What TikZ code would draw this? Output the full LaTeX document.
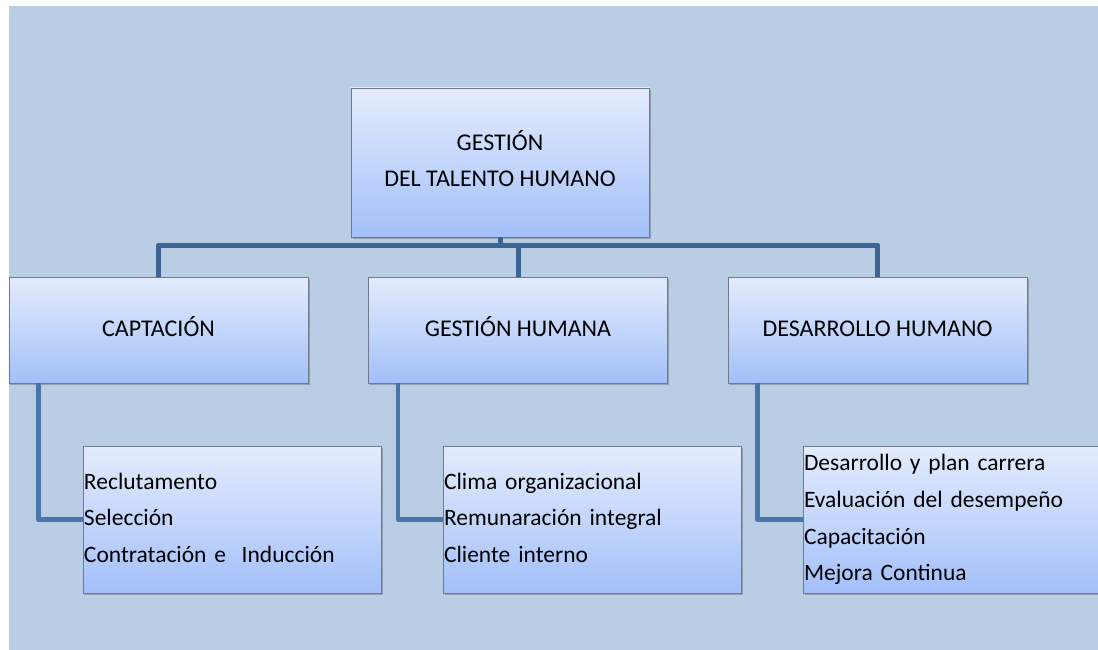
\documentclass[tikz,border=0pt]{standalone}
\usepackage{fontspec}
\setmainfont{Carlito}
\usetikzlibrary{shadows}
\definecolor{panel}{RGB}{185,205,228}
\definecolor{boxtop}{RGB}{228,236,253}
\definecolor{boxbot}{RGB}{163,192,250}
\definecolor{boxline}{RGB}{112,122,140}
\definecolor{linkbus}{RGB}{62,100,148}
\definecolor{linkleg}{RGB}{72,116,170}
% fixed first-line height and last-line depth so every label sits alike
\newcommand\topstrut{\rule{0pt}{22bp}}
\newcommand\botstrut{\rule[-9.5bp]{0pt}{9.5bp}}

\begin{document}
\begin{tikzpicture}[x=1bp,y=-1bp,
  box/.style={rectangle, draw=boxline, line width=0.8bp,
    top color=boxtop, bottom color=boxbot,
    drop shadow={shadow xshift=1.5bp, shadow yshift=-2bp, opacity=0.35, fill=black!70},
    inner sep=0pt},
  headbox/.style={box, minimum width=298bp, minimum height=149bp, align=center,
    font=\fontsize{24bp}{36bp}\selectfont},
  areabox/.style={box, minimum width=299bp, minimum height=106bp, align=center,
    font=\fontsize{24bp}{36bp}\selectfont},
  listbox/.style={box, minimum height=147bp, inner xsep=1bp, align=left,
    font=\fontsize{23.5bp}{36.7bp}\selectfont},
  bus/.style={draw=linkbus, line width=5bp, line join=round},
  leg/.style={draw=linkleg, line width=4.5bp, line join=round}]

  % canvas and backdrop
  \useasboundingbox (0,0) rectangle (1098,650);
  \fill[panel] (9,6) rectangle (1110,660);

  % root
  \node[headbox] (top) at (500,162.5) {\topstrut GESTIÓN\\DEL TALENTO HUMANO\botstrut};

  % second level
  \node[areabox] (cap) at (158.5,330) {\topstrut CAPTACIÓN\botstrut};
  \node[areabox] (gh)  at (518,330)   {\topstrut GESTIÓN HUMANA\botstrut};
  \node[areabox] (des) at (877.5,330) {\topstrut DESARROLLO HUMANO\botstrut};

  % detail lists
  \node[listbox, text width=296bp] (l1) at (232,519.5)
    {\topstrut Reclutamento\\Selección\\Contratación e\ \ Inducción\botstrut};
  \node[listbox, text width=296bp] (l2) at (592,519.5)
    {\topstrut Clima organizacional\\Remunaración integral\\Cliente interno\botstrut};
  \node[listbox, text width=298bp] (l3) at (953,519.5)
    {\topstrut Desarrollo y plan carrera\\Evaluación del desempeño\\Capacitación\\Mejora Continua\botstrut};

  % hierarchy bus
  \coordinate (busy) at (0,245);
  \draw[bus] (top.south) -- (top.south |- busy);
  \draw[bus] (cap.north) |- (des.north |- busy) -- (des.north);
  \draw[bus] (gh.north) -- (gh.north |- busy);

  % legs down to the lists
  \draw[leg] ([xshift=30bp]cap.south west) |- (l1.west);
  \draw[leg] ([xshift=30bp]gh.south west) |- (l2.west);
  \draw[leg] ([xshift=30bp]des.south west) |- (l3.west);
\end{tikzpicture}
\end{document}
